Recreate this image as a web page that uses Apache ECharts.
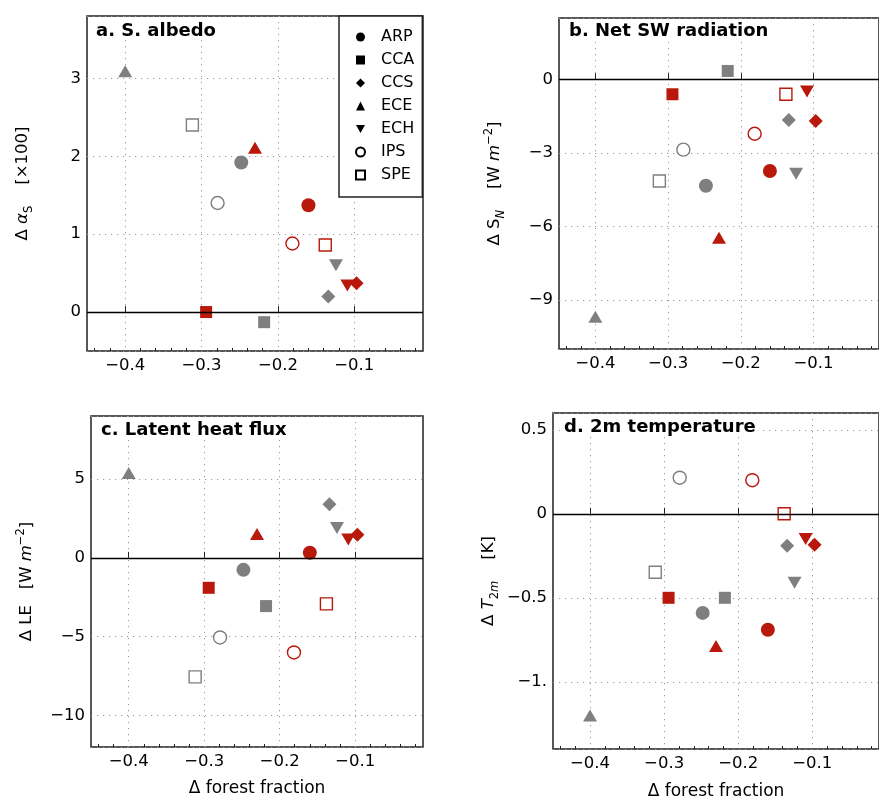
<!DOCTYPE html>
<html><head><meta charset="utf-8">
<script src="https://cdn.jsdelivr.net/npm/echarts@6/dist/echarts.min.js"></script>
<style>html,body{margin:0;padding:0;background:#fff}#c{width:879px;height:801px}</style>
</head><body><div id="c"></div><script>
// ---- data ----
const models = ['ARP', 'CCA', 'CCS', 'ECE', 'ECH', 'IPS', 'SPE'];
const forestGray = [-0.248, -0.218, -0.134, -0.400, -0.124, -0.279, -0.312];
const forestRed  = [-0.160, -0.294, -0.097, -0.230, -0.109, -0.181, -0.138];

const albedoGray = [1.92, -0.13, 0.20, 3.09, 0.60, 1.40, 2.40];
const albedoRed  = [1.37, 0.00, 0.37, 2.11, 0.34, 0.88, 0.86];

const netSWGray = [-4.34, 0.34, -1.66, -9.68, -3.85, -2.87, -4.15];
const netSWRed  = [-3.74, -0.61, -1.70, -6.46, -0.50, -2.22, -0.61];

const latentGray = [-0.76, -3.06, 3.40, 5.39, 1.90, -5.05, -7.55];
const latentRed  = [0.32, -1.90, 1.46, 1.52, 1.17, -6.00, -2.92];

const t2mGray = [-0.59, -0.50, -0.19, -1.20, -0.41, 0.215, -0.348];
const t2mRed  = [-0.69, -0.50, -0.184, -0.787, -0.15, 0.20, 0.00];

const xMajorTicks = [-0.4, -0.3, -0.2, -0.1];
const xMinorTicks = [-0.44, -0.42, -0.38, -0.36, -0.34, -0.32, -0.28, -0.26, -0.24, -0.22,
                     -0.18, -0.16, -0.14, -0.12, -0.08, -0.06, -0.04, -0.02];
const yTicksA = [0, 1, 2, 3];
const yTicksB = [-9, -6, -3, 0];
const yTicksC = [-10, -5, 0, 5];
const yTicksD = [-1, -0.5, 0, 0.5];

const titles = ['a. S. albedo', 'b. Net SW radiation', 'c. Latent heat flux', 'd. 2m temperature'];

// ---- styling ----
const GRAY = '#7f7f7f', RED = '#b8190a';
const FONT = 'DejaVu Sans';
const symbols = ['circle', 'rect', 'diamond', 'triangle', 'path://M0,0L10,0L5,9Z', 'circle', 'rect'];
const symSizes = [14, 12, 14, [14, 12], [14, 12], 13, 12];
const openMarker = [false, false, false, false, false, true, true];

const panels = [
  { gray: albedoGray, red: albedoRed, yMin: -0.5, yMax: 3.8, ticks: yTicksA, mathDot: false,
    grid: { left: 87, top: 16, width: 336, height: 335 },
    title: { left: 96, top: 22 },
    yName: '{t|Δ }{it|α}{sub|S}{t|    [×100]}', xGap: 33 },
  { gray: netSWGray, red: netSWRed, yMin: -11, yMax: 2.5, ticks: yTicksB, mathDot: false,
    grid: { left: 559, top: 18, width: 333, height: 331 },
    title: { left: 569, top: 22 },
    yName: '{t|Δ S}{subit|N}{t|    [W }{it|m}{sup|−2}{t|]}', xGap: 33 },
  { gray: latentGray, red: latentRed, yMin: -12, yMax: 9, ticks: yTicksC, mathDot: false,
    grid: { left: 91, top: 416, width: 332, height: 331 },
    title: { left: 101, top: 421 },
    yName: '{t|Δ LE   [W }{it|m}{sup|−2}{t|]}', xGap: 33 },
  { gray: t2mGray, red: t2mRed, yMin: -1.4, yMax: 0.6, ticks: yTicksD, mathDot: true,
    grid: { left: 553, top: 413, width: 338, height: 337 },
    title: { left: 564, top: 418 },
    yName: '{t|Δ }{it|T}{sub|2}{subit|m}{t|    [K]}', xGap: 34 }
];

function fmtNum(v, mathDot) {
  let s = String(Math.round(v * 1000) / 1000);
  if (mathDot && Number.isInteger(v) && v !== 0) s += '.';
  return s.replace('-', '−');
}

const grids = [], xAxes = [], yAxes = [], series = [], titleOpts = [];
const richName = {
  t: { fontFamily: FONT, fontSize: 16.5, lineHeight: 24, color: '#000' },
  it: { fontFamily: FONT, fontSize: 16.5, fontStyle: 'italic', lineHeight: 24, color: '#000' },
  sub: { fontFamily: FONT, fontSize: 11.5, lineHeight: 12, verticalAlign: 'bottom', color: '#000' },
  subit: { fontFamily: FONT, fontSize: 11.5, fontStyle: 'italic', lineHeight: 12, verticalAlign: 'bottom', color: '#000' },
  sup: { fontFamily: FONT, fontSize: 11.5, lineHeight: 12, verticalAlign: 'top', color: '#000' }
};
const dotted = { color: '#9a9a9a', width: 1, type: [1.2, 4.8] };

panels.forEach((p, gi) => {
  grids.push(Object.assign({ show: true, borderColor: '#222', borderWidth: 1.5, backgroundColor: 'transparent', containLabel: false }, p.grid));
  const showXName = gi >= 2;
  xAxes.push({
    type: 'value', gridIndex: gi, min: -0.45, max: -0.01, position: 'bottom',
    name: showXName ? 'Δ forest fraction' : '', nameLocation: 'middle', nameGap: p.xGap,
    nameTextStyle: { fontFamily: FONT, fontSize: 17, color: '#000' },
    axisLine: { show: false },
    axisTick: { show: true, inside: true, length: 6, customValues: xMajorTicks, lineStyle: { color: '#222', width: 1 } },
    axisLabel: { show: true, customValues: xMajorTicks, margin: 6, fontFamily: FONT, fontSize: 16.5, color: '#000',
      formatter: v => fmtNum(v, false) },
    splitLine: { show: true, lineStyle: dotted }
  });
  xAxes.push({
    type: 'value', gridIndex: gi, min: -0.45, max: -0.01, position: 'bottom', offset: 0,
    axisLine: { show: false },
    axisTick: { show: true, inside: true, length: 3, customValues: xMinorTicks, lineStyle: { color: '#222', width: 1 } },
    axisLabel: { show: false },
    splitLine: { show: false }
  });
  yAxes.push({
    type: 'value', gridIndex: gi, min: p.yMin, max: p.yMax,
    name: p.yName, nameLocation: 'middle', nameGap: 52, nameRotate: 90,
    nameTextStyle: { rich: richName },
    axisLine: { show: false },
    axisTick: { show: false },
    axisLabel: { customValues: p.ticks, margin: 6, fontFamily: FONT, fontSize: 16.5, color: '#000',
      formatter: v => fmtNum(v, p.mathDot) },
    splitLine: { show: true, lineStyle: dotted }
  });
  titleOpts.push({
    text: titles[gi], left: p.title.left, top: p.title.top, padding: [0, 2, 0, 0],
    backgroundColor: '#fff',
    textStyle: { fontFamily: FONT, fontSize: 18, fontWeight: 'bold', color: '#000' }
  });
  // zero line
  series.push({
    type: 'scatter', xAxisIndex: 2 * gi, yAxisIndex: gi, data: [], silent: true,
    markLine: { silent: true, symbol: 'none', label: { show: false }, animation: false,
      lineStyle: { color: '#000', width: 1.3, type: 'solid' }, emphasis: { disabled: true },
      data: [{ yAxis: 0 }] }
  });
  models.forEach((m, k) => {
    const open = openMarker[k];
    const st = c => open ? { color: '#fff', borderColor: c, borderWidth: 1.4, opacity: 1 }
                         : { color: c, borderWidth: 0, opacity: 1 };
    series.push({
      type: 'scatter', name: m, xAxisIndex: 2 * gi, yAxisIndex: gi,
      symbol: symbols[k], symbolSize: symSizes[k], symbolKeepAspect: false,
      itemStyle: st('#000'),
      emphasis: { disabled: true },
      data: [
        { value: [forestGray[k], p.gray[k]], itemStyle: st(GRAY) },
        { value: [forestRed[k], p.red[k]], itemStyle: st(RED) }
      ]
    });
  });
});

const chart = echarts.init(document.getElementById('c'), null, { renderer: 'canvas' });
chart.setOption({
  animation: false,
  backgroundColor: '#fff',
  title: titleOpts,
  grid: grids,
  xAxis: xAxes,
  yAxis: yAxes,
  legend: {
    data: models, orient: 'vertical', left: 339, top: 16, selectedMode: false,
    itemWidth: 9, itemHeight: 9, itemGap: 7, padding: [13, 8, 14, 16],
    borderColor: '#222', borderWidth: 1.5, backgroundColor: '#fff',
    itemStyle: { opacity: 1 },
    textStyle: { fontFamily: FONT, fontSize: 16, color: '#000', lineHeight: 16, padding: [0, 0, 0, 11] }
  },
  series: series
});
</script></body></html>
